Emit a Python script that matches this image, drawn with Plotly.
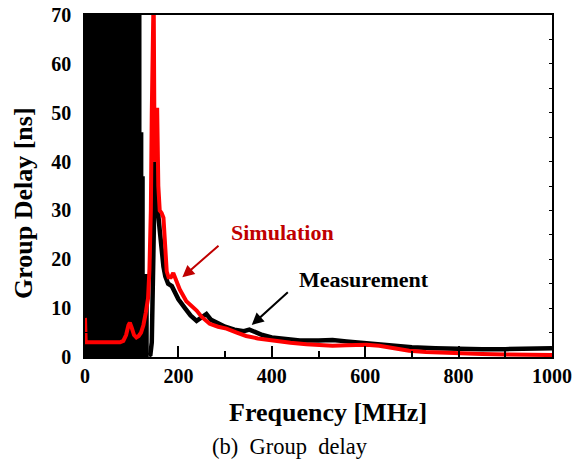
import plotly.graph_objects as go

# ---------------- data ----------------
# Measurement: low-frequency region where the measured group delay oscillates off-scale (envelope of the band)
meas_band_freq = [0, 121, 125, 128, 136.5]
meas_band_top = [75, 46, 37, 17, 0]

# Measurement: main curve
meas_freq = [136.5, 140, 143, 145.5, 148, 150, 152, 154, 157, 160, 164, 168, 172, 178, 186, 193,
             200, 214, 226, 239, 250, 260, 270, 285, 300, 320, 340, 352, 365, 380, 400, 430,
             460, 500, 530, 560, 600, 650, 700, 750, 800, 850, 900, 950, 1000]
meas_val = [0.3, 0.5, 3, 15, 33, 40, 38, 33, 29, 26, 22, 18.5, 16.5, 15, 14.5, 13,
            11.8, 10, 8.5, 7.4, 8.2, 8.8, 7.6, 6.8, 6.2, 5.6, 5.3, 5.6, 5.0, 4.5, 4.0, 3.7,
            3.4, 3.4, 3.5, 3.2, 2.8, 2.4, 2.0, 1.8, 1.6, 1.6, 1.6, 1.7, 1.8]

# Simulation
sim_freq = [0, 1.5, 20, 50, 75, 82, 88, 93, 96, 100, 105, 110, 115, 120, 125, 130, 135, 138,
            141, 143, 145, 147, 149, 151.5, 154.5, 157, 160, 164, 168, 171, 175, 179, 184, 189,
            194, 203, 217, 230, 239, 250, 267, 285, 303, 325, 345, 370, 402, 440, 474, 500,
            530, 560, 602, 630, 660, 694, 730, 794, 850, 900, 950, 1000]
sim_val = [8, 3, 3, 3, 3, 3.3, 4.5, 6.5, 7, 6, 4.5, 4.0, 4.3, 5, 6.5, 9, 12, 18,
           30, 50, 75, 75, 40, 41, 51, 35, 30, 29.5, 28.5, 24, 17.5, 16.3, 16.3, 17.2,
           15.8, 13.8, 11.4, 10.3, 9.5, 8.2, 6.8, 6.2, 5.8, 5.0, 4.3, 3.8, 3.3, 2.9, 2.6, 2.5,
           2.3, 2.4, 2.5, 2.3, 1.8, 1.3, 1.0, 0.7, 0.6, 0.5, 0.5, 0.4]

x_ticks = [0, 200, 400, 600, 800, 1000]
y_ticks = [0, 10, 20, 30, 40, 50, 60, 70]

FONT = "Liberation Serif"
RED = "#ff0000"
DARKRED = "#c00000"

fig = go.Figure()

fig.add_trace(go.Scatter(
    x=meas_band_freq, y=meas_band_top, mode="lines", line=dict(width=0, color="black", shape="hv"),
    fill="tozeroy", fillcolor="black", hoverinfo="skip", showlegend=False))

fig.add_trace(go.Scatter(
    x=meas_freq, y=meas_val, mode="lines", line=dict(width=4.5, color="black"),
    name="Measurement", showlegend=False))

fig.add_trace(go.Scatter(
    x=sim_freq, y=sim_val, mode="lines", line=dict(width=4, color=RED),
    name="Simulation", showlegend=False))

# invisible trace for right-side tick axis
fig.add_trace(go.Scatter(x=[0], y=[0], yaxis="y2", mode="markers",
                         marker=dict(opacity=0), hoverinfo="skip", showlegend=False))

fig.update_layout(
    width=573, height=464,
    margin=dict(l=85, r=21, t=15, b=107),
    paper_bgcolor="white", plot_bgcolor="white",
    font=dict(family=FONT, color="black"),
    xaxis=dict(range=[0, 1000], tickvals=x_ticks, ticks="inside", ticklen=11, tickwidth=1.5,
               tickcolor="black", showline=True, linecolor="black", linewidth=1.5, mirror=True,
               showgrid=False, zeroline=False, automargin=False,
               tickfont=dict(family=FONT, size=20, color="black", weight="bold"),
               minor=dict(dtick=100, ticks="inside", ticklen=6, tickwidth=1.5, tickcolor="black",
                          showgrid=False),
               ticklabelstandoff=0),
    yaxis=dict(range=[0, 70], tickvals=y_ticks, ticks="inside", ticklen=8, tickwidth=1.5,
               tickcolor="black", showline=True, linecolor="black", linewidth=1.5, mirror=True,
               showgrid=False, zeroline=False, automargin=False,
               tickfont=dict(family=FONT, size=20, color="black", weight="bold"),
               minor=dict(dtick=5, ticks="inside", ticklen=4, tickwidth=1, tickcolor="black",
                          showgrid=False),
               ticklabelstandoff=8),
    yaxis2=dict(range=[0, 70], overlaying="y", side="right", anchor="x", dtick=5,
                ticks="inside", ticklen=3, tickwidth=1, tickcolor="black", automargin=False,
                showticklabels=False, showgrid=False, zeroline=False, showline=False),
)

annotations = [
    dict(text="<b>Frequency [MHz]</b>", xref="paper", yref="paper", x=0.520, y=-0.1637,
         showarrow=False, xanchor="center", yanchor="middle",
         font=dict(family=FONT, size=26, color="black")),
    dict(text="<b>Group Delay [ns]</b>", xref="paper", yref="paper", x=-0.1328, y=0.450,
         showarrow=False, xanchor="center", yanchor="middle", textangle=-90,
         font=dict(family=FONT, size=26, color="black")),
    dict(text="(b)\u00a0\u00a0Group\u00a0\u00a0delay", xref="paper", yref="paper", x=0.440, y=-0.262,
         showarrow=False, xanchor="center", yanchor="middle",
         font=dict(family=FONT, size=22.5, color="black")),
    dict(text="<b>Simulation</b>", xref="x", yref="y", x=423, y=25.4, showarrow=False,
         xanchor="center", yanchor="middle", font=dict(family=FONT, size=22, color=DARKRED)),
    dict(text="<b>Measurement</b>", xref="x", yref="y", x=597, y=15.8, showarrow=False,
         xanchor="center", yanchor="middle", font=dict(family=FONT, size=22, color="black")),
    dict(text="", xref="x", yref="y", x=208.4, y=16.3, ax=37.7, ay=-33, showarrow=True,
         arrowhead=2, arrowsize=1.2, arrowwidth=2, arrowcolor=DARKRED, standoff=0),
    dict(text="", xref="x", yref="y", x=357, y=6.55, ax=37.6, ay=-34, showarrow=True,
         arrowhead=2, arrowsize=1.2, arrowwidth=2, arrowcolor="black", standoff=0),
]
fig.update_layout(annotations=annotations)

# remove the browser's default 8px body margin so the figure fills the window exactly
fig.write_html("out.html", config={"displayModeBar": False},
               post_script="document.body.style.margin='0';")
